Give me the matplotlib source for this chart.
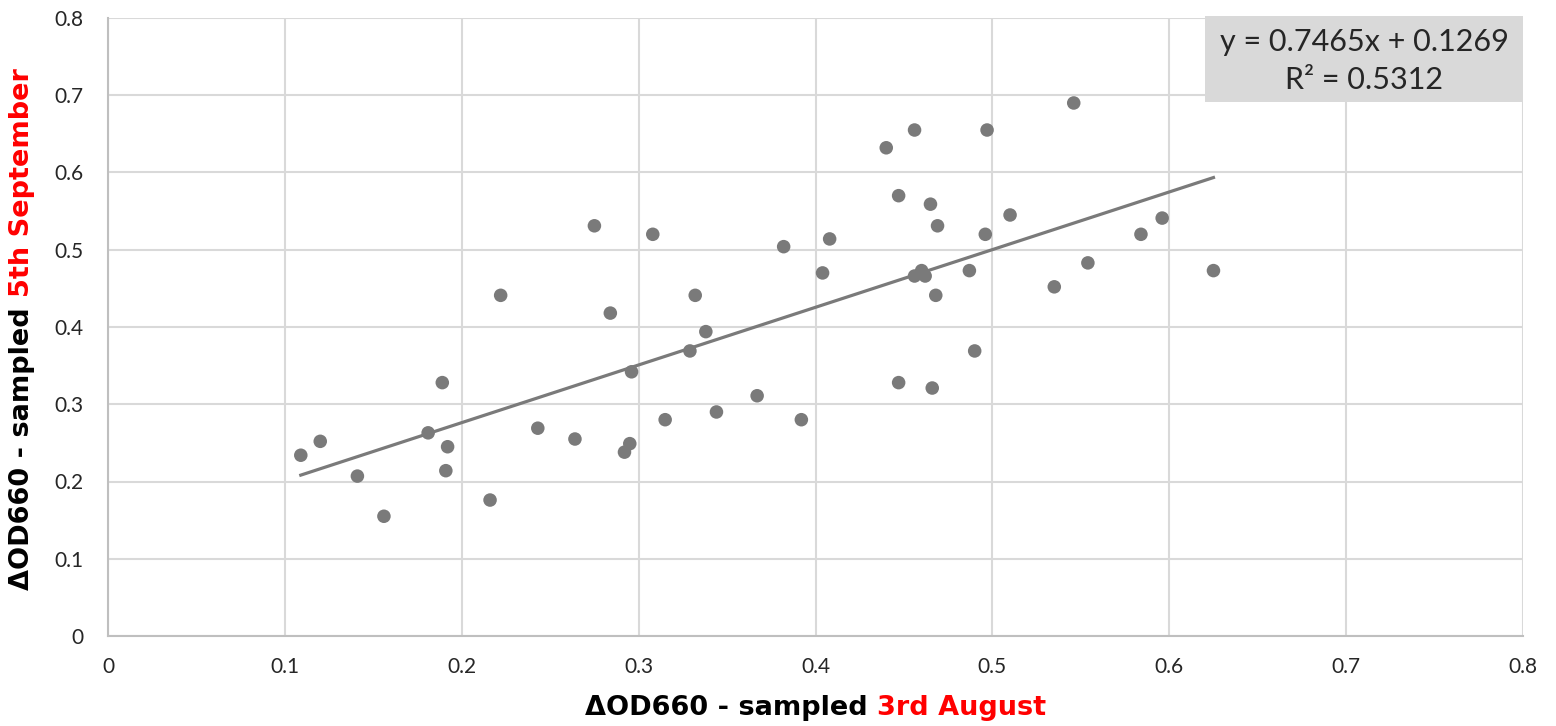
import numpy as np
from matplotlib import pyplot as plt
from matplotlib.patches import Rectangle

# dOD660 sampled 3rd August (x) vs 5th September (y)
od_aug = [0.109, 0.120, 0.141, 0.156, 0.181, 0.189, 0.192, 0.191, 0.216, 0.222,
          0.243, 0.264, 0.275, 0.284, 0.292, 0.295, 0.296, 0.308, 0.315, 0.329,
          0.332, 0.338, 0.344, 0.367, 0.382, 0.392, 0.404, 0.408, 0.440, 0.447,
          0.447, 0.456, 0.456, 0.460, 0.462, 0.465, 0.466, 0.468, 0.469, 0.497,
          0.496, 0.487, 0.490, 0.510, 0.535, 0.546, 0.554, 0.584, 0.596, 0.625]
od_sep = [0.234, 0.252, 0.207, 0.155, 0.263, 0.328, 0.245, 0.214, 0.176, 0.441,
          0.269, 0.255, 0.531, 0.418, 0.238, 0.249, 0.342, 0.520, 0.280, 0.369,
          0.441, 0.394, 0.290, 0.311, 0.504, 0.280, 0.470, 0.514, 0.632, 0.570,
          0.328, 0.655, 0.466, 0.473, 0.466, 0.559, 0.321, 0.441, 0.531, 0.655,
          0.520, 0.473, 0.369, 0.545, 0.452, 0.690, 0.483, 0.520, 0.541, 0.473]

# linear trendline as reported on the chart
slope = 0.7465
intercept = 0.1269
r_squared = 0.5312

ticks = [0, 0.1, 0.2, 0.3, 0.4, 0.5, 0.6, 0.7, 0.8]
tick_labels = ['0', '0.1', '0.2', '0.3', '0.4', '0.5', '0.6', '0.7', '0.8']

pt_color = '#7a7a7a'
text_color = '#262626'

fig = plt.figure(figsize=(15.56, 7.26), dpi=100)
ax = fig.add_axes([108 / 1556, 1 - 636 / 726, 1415 / 1556, 618 / 726])

ax.scatter(od_aug, od_sep, s=95, color=pt_color, edgecolors='none', zorder=3)

xs = np.array([min(od_aug), max(od_aug)])
ax.plot(xs, slope * xs + intercept, color=pt_color, lw=2.3, zorder=2)

ax.set_xlim(0, 0.8)
ax.set_ylim(0, 0.8)
ax.set_xticks(ticks)
ax.set_xticklabels(tick_labels)
ax.set_yticks(ticks)
ax.set_yticklabels(tick_labels)
ax.tick_params(axis='both', length=0, labelsize=15, labelcolor=text_color)
ax.tick_params(axis='x', pad=15)
ax.tick_params(axis='y', pad=18)
for lab in ax.get_xticklabels() + ax.get_yticklabels():
    lab.set_family('Lato')

ax.grid(True, color='#d9d9d9', lw=1.5, zorder=0)
ax.set_axisbelow(True)
for side in ['top', 'right']:
    ax.spines[side].set_visible(False)
for side in ['left', 'bottom']:
    ax.spines[side].set_color('#bfbfbf')
    ax.spines[side].set_linewidth(1.5)

# equation box
ax.add_patch(Rectangle((0.7753, 0.864), 0.2247, 0.139, transform=ax.transAxes,
                       facecolor='#d9d9d9', edgecolor='none', clip_on=False, zorder=4))
ax.text(0.8876, 0.961, f'y = {slope}x + {intercept}', transform=ax.transAxes,
        ha='center', va='center', fontsize=22, family='Lato', color='#262626', zorder=5)
ax.text(0.8876, 0.900, f'R² = {r_squared}', transform=ax.transAxes,
        ha='center', va='center', fontsize=22, family='Lato', color='#262626', zorder=5)

# two-coloured axis titles
fig.canvas.draw()
renderer = fig.canvas.get_renderer()
lab_kw = dict(fontsize=19.5, fontweight='bold', family='DejaVu Sans')

# x title
parts = [('ΔOD660 - sampled ', 'black'), ('3rd August', 'red')]
texts = [fig.text(0, 0.025, s, color=c, ha='left', va='center', **lab_kw) for s, c in parts]
widths = [t.get_window_extent(renderer).width / fig.bbox.width for t in texts]
x_center = (108 + 1415 / 2) / 1556
x0 = x_center - sum(widths) / 2
for t, w in zip(texts, widths):
    t.set_x(x0)
    x0 += w

# y title
parts = [('ΔOD660 - sampled ', 'black'), ('5th September', 'red')]
texts = [fig.text(0.0141, 0, s, color=c, ha='center', va='bottom', rotation=90,
                  rotation_mode='default', **lab_kw) for s, c in parts]
heights = [t.get_window_extent(renderer).height / fig.bbox.height for t in texts]
y_center = 1 - 329 / 726
y0 = y_center - sum(heights) / 2
for t, h in zip(texts, heights):
    t.set_y(y0)
    y0 += h

fig.savefig('out.png', dpi=100)
